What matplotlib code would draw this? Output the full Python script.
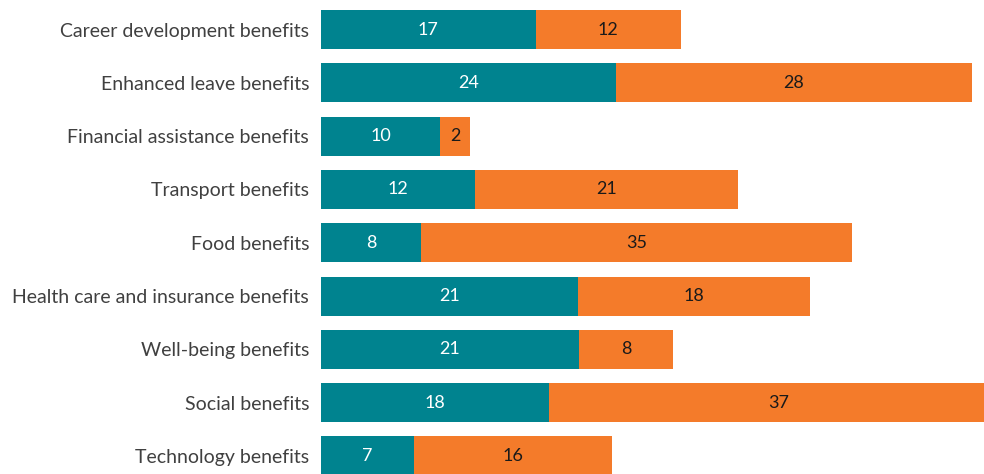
import matplotlib
matplotlib.use("Agg")
import matplotlib.pyplot as plt

categories = [
    "Career development benefits",
    "Enhanced leave benefits",
    "Financial assistance benefits",
    "Transport benefits",
    "Food benefits",
    "Health care and insurance benefits",
    "Well-being benefits",
    "Social benefits",
    "Technology benefits",
]
teal_values = [17.3, 23.8, 9.6, 12.4, 8.1, 20.7, 20.8, 18.4, 7.5]
orange_values = [11.7, 28.7, 2.4, 21.2, 34.7, 18.7, 7.6, 37.0, 16.0]
teal_labels = ["17", "24", "10", "12", "8", "21", "21", "18", "7"]
orange_labels = ["12", "28", "2", "21", "35", "18", "8", "37", "16"]

TEAL = "#00838F"
ORANGE = "#F47B2A"
FONT = "Lato"

fig = plt.figure(figsize=(9.84, 4.74), dpi=100)
W, H = 984, 474
ax = fig.add_axes([321 / W, 0, 663 / W, 1])

pitch = 53.3
top_center = 29.5
y0 = -top_center / pitch
y1 = (H - top_center) / pitch
ys = list(range(len(categories)))
bh = 39 / pitch

ax.barh(ys, teal_values, height=bh, color=TEAL, linewidth=0)
ax.barh(ys, orange_values, left=teal_values, height=bh, color=ORANGE, linewidth=0)

ax.set_ylim(y1, y0)
ax.set_xlim(0, 663 / 12.4)

for y, t, o, tl, ol in zip(ys, teal_values, orange_values, teal_labels, orange_labels):
    ax.text(t / 2, y, tl, ha="center", va="center", color="white",
            fontsize=13, family=FONT)
    ax.text(t + o / 2, y, ol, ha="center", va="center", color="#1a1a1a",
            fontsize=13, family=FONT)

ax.set_yticks(ys)
ax.set_yticklabels(categories, fontsize=14, color="#404040", family=FONT)
ax.tick_params(axis="y", length=0, pad=8.6)
ax.set_xticks([])
for s in ax.spines.values():
    s.set_visible(False)

fig.savefig("out.png", dpi=100)
